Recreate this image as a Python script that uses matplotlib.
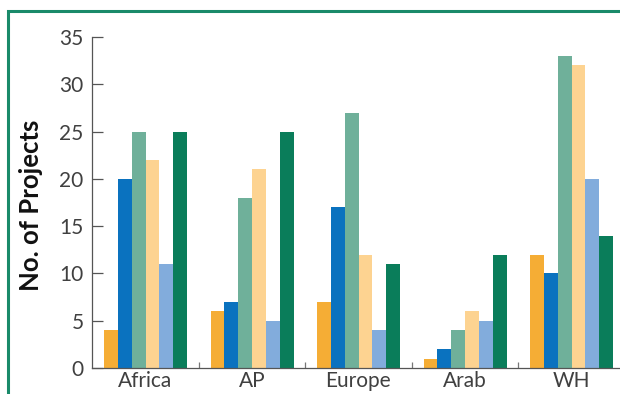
import matplotlib
matplotlib.use("Agg")
import matplotlib.pyplot as plt
from matplotlib.patches import Rectangle
import numpy as np

regions = ["Africa", "AP", "Europe", "Arab", "WH"]
s1 = [4, 6, 7, 1, 12]
s2 = [20, 7, 17, 2, 10]
s3 = [25, 18, 27, 4, 33]
s4 = [22, 21, 12, 6, 32]
s5 = [11, 5, 4, 5, 20]
s6 = [25, 25, 11, 12, 14]
series = [s1, s2, s3, s4, s5, s6]
colors = ["#f5ad35", "#0a72bf", "#6fb09a", "#fdd391", "#82acdc", "#0a7d5a"]
yticks = [0, 5, 10, 15, 20, 25, 30, 35]

W, H = 620, 394
fig = plt.figure(figsize=(W / 100, H / 100), dpi=100)
ax = fig.add_axes([92 / W, (H - 368) / H, (W - 92) / W, (368 - 37) / H])

bw = 0.13
start = 0.113
x = np.arange(len(regions))
for k, (vals, c) in enumerate(zip(series, colors)):
    ax.bar(x + start + k * bw, vals, width=bw, align="edge", color=c, linewidth=0)

ax.set_xlim(0, (W - 92) / 106.5)
ax.set_ylim(0, 35)
ax.set_yticks(yticks)
ax.set_yticklabels([str(v) for v in yticks])
ax.set_xticks([1, 2, 3, 4])
ax.set_xticklabels([])
ax.set_xticks(x + 0.5, minor=True)
ax.set_xticklabels(regions, minor=True)

for s in ["top", "right"]:
    ax.spines[s].set_visible(False)
for s in ["left", "bottom"]:
    ax.spines[s].set_color("#555555")
    ax.spines[s].set_linewidth(0.9)

ax.tick_params(axis="y", direction="in", length=8, width=0.9, color="#555555",
               labelsize=15, labelcolor="#404040", pad=6)
ax.tick_params(axis="x", which="major", direction="in", length=4, width=0.9, color="#777777")
ax.tick_params(axis="x", which="minor", length=0, labelsize=15, labelcolor="#404040", pad=2)
for lab in ax.get_yticklabels() + ax.get_xticklabels(minor=True):
    lab.set_family("Lato")

fig.text(31 / W, 1 - 205 / H, "No. of Projects", rotation=90, ha="center", va="center",
         fontsize=18.5, fontweight="bold", family="Lato", color="#111111")

fig.patches.append(Rectangle((8 / W, -0.1), 1.2, 1 - 11 / H + 0.1, transform=fig.transFigure,
                             fill=False, edgecolor="#1a8a6a", linewidth=2.2, clip_on=False))

fig.savefig("out.png", dpi=100)
